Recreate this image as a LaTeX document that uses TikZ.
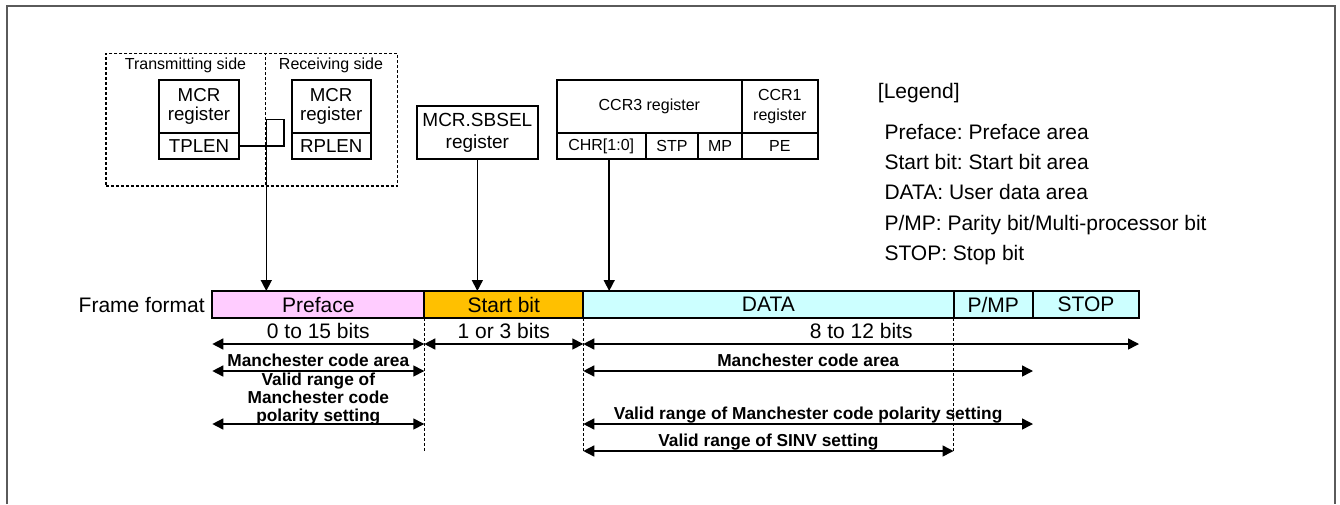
\documentclass[tikz,border=0pt]{standalone}
\usepackage{fontspec}
\setmainfont{Liberation Sans}
\usepackage{xcolor}
\usepackage{tikz}
\usetikzlibrary{positioning,arrows.meta}
\definecolor{prefacefill}{HTML}{FFCCFF}
\definecolor{startfill}{HTML}{FFC000}
\definecolor{datafill}{HTML}{CCFFFF}
\definecolor{frameline}{HTML}{5A5A5A}
\frenchspacing

\tikzset{
  regcell/.style={draw,line width=2pt,inner sep=0pt,outer sep=0pt,align=center},
  mcrfont/.style={font=\fontsize{18.7}{19}\selectfont},
  ccrfont/.style={font=\fontsize{16}{19.3}\selectfont},
  framecell/.style={draw,line width=2pt,inner sep=0pt,outer sep=0pt,minimum height=27pt,font=\fontsize{21}{24}\selectfont},
  sidebox/.style={draw,line width=1.6pt,dash pattern=on 3pt off 2pt,inner sep=0pt,minimum height=132.4pt},
  feed/.style={line width=1.5pt,-{Triangle[length=11pt,width=11pt]}},
  span/.style={line width=1.5pt,{Triangle[length=11pt,width=11pt]}-{Triangle[length=11pt,width=11pt]}},
  guide/.style={line width=1.6pt,dash pattern=on 2.5pt off 2.5pt},
  bitstext/.style={font=\fontsize{21}{24}\selectfont,inner sep=0pt},
  areatext/.style={font=\fontsize{17.3}{18}\selectfont\bfseries,inner sep=0pt,align=center},
}

\begin{document}
\begin{tikzpicture}[x=1pt,y=-1pt]
  \useasboundingbox (0,0) rectangle (1340,504);
  \draw[frameline,line width=1.6pt] (7,504) -- (7,6) -- (1335,6) -- (1335,504);

  % transmitting and receiving side
  \node[sidebox,minimum width=159.5pt] (txside) at (185.75,119.5) {};
  \node[sidebox,minimum width=131.8pt] (rxside) at (331.4,119.5) {};
  \node[font=\fontsize{16}{18}\selectfont] (txlabel) at (185.5,65) {Transmitting side};
  \node[font=\fontsize{16}{18}\selectfont] (rxlabel) at (331,65) {Receiving side};

  \node[regcell,mcrfont,minimum width=80pt,minimum height=53pt] (txmcr) at (199,106.5) {MCR\\register};
  \node[regcell,mcrfont,minimum width=80pt,minimum height=26pt,below=0pt of txmcr] (tplen) {TPLEN};
  \node[regcell,mcrfont,minimum width=79pt,minimum height=53pt] (rxmcr) at (331.2,106.5) {MCR\\register};
  \node[regcell,mcrfont,minimum width=79pt,minimum height=26pt,below=0pt of rxmcr] (rplen) {RPLEN};

  % registers
  \node[regcell,font=\fontsize{19}{22}\selectfont,minimum width=121.3pt,minimum height=53pt] (sbsel) at (477.35,132.5) {MCR.SBSEL\\register};
  \node[regcell,ccrfont,minimum width=185.3pt,minimum height=53pt] (ccr3) at (649.35,106.5) {CCR3 register};
  \node[regcell,ccrfont,minimum width=75.7pt,minimum height=53pt,right=0pt of ccr3] (ccr1) {CCR1\\register};
  \node[regcell,ccrfont,minimum width=89pt,minimum height=26pt,anchor=north west] (chr) at (ccr3.south west) {CHR[1:0]};
  \node[regcell,ccrfont,minimum width=52.6pt,minimum height=26pt,right=0pt of chr] (stp) {STP};
  \node[regcell,ccrfont,minimum width=43.7pt,minimum height=26pt,right=0pt of stp] (mp) {MP};
  \node[regcell,ccrfont,minimum width=75.7pt,minimum height=26pt,right=0pt of mp] (pe) {PE};

  % legend
  \node[anchor=west,inner sep=0pt,font=\fontsize{21}{24}\selectfont] (legend) at (877.7,93.3) {[Legend]};
  \node[anchor=north west,inner sep=0pt,align=left,font=\fontsize{21}{30.25}\selectfont] (legendtext) at (884.3,123.9)
    {Preface: Preface area\\Start bit: Start bit area\\DATA: User data area\\P/MP: Parity bit/Multi-processor bit\\STOP: Stop bit};

  % frame format
  \node[framecell,fill=prefacefill,minimum width=212pt] (pref) at (318.3,304.5) {Preface};
  \node[framecell,fill=startfill,minimum width=159pt,right=0pt of pref] (start) {Start bit};
  \node[framecell,fill=datafill,minimum width=370.2pt,right=0pt of start] (data) {DATA};
  \node[framecell,fill=datafill,minimum width=79.5pt,right=0pt of data] (pmp) {P/MP};
  \node[framecell,fill=datafill,minimum width=106pt,right=0pt of pmp] (stop) {STOP};
  \node[font=\fontsize{21}{24}\selectfont,left=4pt of pref] (fmt) {Frame format};

  % register to frame
  \coordinate (bend) at (284,119.3);
  \draw[feed] (tplen.east) -| (bend) -- (bend -| txside.east) -- (txside.east |- pref.north);
  \draw[feed] (sbsel.south) -- (sbsel.south |- start.north);
  \draw[feed] ([xshift=8pt]chr.south) -- ([xshift=8pt]chr.south |- data.north);

  \draw[guide] (pref.south east) -- ++(0,133);
  \draw[guide] (start.south east) -- ++(0,134);
  \draw[guide] (data.south east) -- ++(0,133);

  % bit lengths
  \draw[span] ([yshift=-26pt]pref.south west) -- node[bitstext,above=5pt] (bits015) {0 to 15 bits} ([yshift=-26pt]pref.south east);
  \draw[span] ([yshift=-26pt]start.south west) -- node[bitstext,above=5pt] (bits13) {1 or 3 bits} ([yshift=-26pt]start.south east);
  \draw[span] ([yshift=-26pt]data.south west) -- node[bitstext,above=5pt] (bits812) {8 to 12 bits} ([yshift=-26pt]stop.south east);

  % areas
  \draw[span] ([yshift=-53pt]pref.south west) -- node[areatext,above=3.5pt] (mcarealeft) {Manchester code area} ([yshift=-53pt]pref.south east);
  \draw[span] ([yshift=-53pt]data.south west) -- node[areatext,above=3.5pt] (mcarearight) {Manchester code area} ([yshift=-53pt]pmp.south east);
  \draw[span] ([yshift=-106pt]pref.south west) -- ([yshift=-106pt]pref.south east);
  \node[areatext] (polleft) at (318.3,398.7) {Valid range of\\Manchester code\\polarity setting};
  \draw[span] ([yshift=-106pt]data.south west) -- node[areatext,above=0.5pt] (polright) {Valid range of Manchester code polarity setting} ([yshift=-106pt]pmp.south east);
  \draw[span] ([yshift=-133pt]data.south west) -- node[areatext,above=0.5pt] (sinv) {Valid range of SINV setting} ([yshift=-133pt]data.south east);
\end{tikzpicture}
\end{document}
